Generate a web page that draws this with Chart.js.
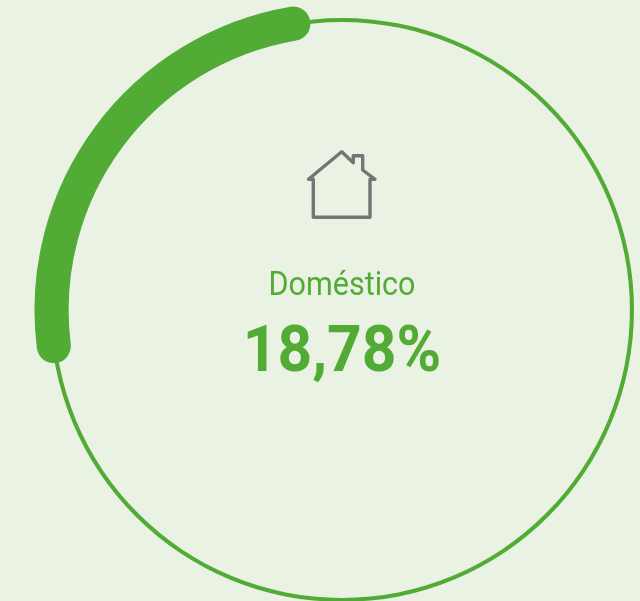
<!DOCTYPE html>
<html><head><meta charset="utf-8">
<style>
html,body{margin:0;padding:0;width:640px;height:601px;overflow:hidden;background:#EAF2E3}
.c{position:absolute;left:22px;top:-10px;width:640px;height:640px}
canvas{display:block}
.t{position:absolute;left:142px;width:400px;text-align:center;font-family:Roboto,sans-serif;color:#52AB35;white-space:nowrap}
#label{top:267px;font-size:30.5px;line-height:36px;font-weight:400;transform-origin:50% 28px;transform:scaleY(1.07)}
#value{top:315px;font-size:60.5px;line-height:72px;font-weight:700;transform-origin:50% 56.7px;transform:scaleY(1.08)}
svg{position:absolute;left:0;top:0}
</style></head><body>
<div class="c"><canvas id="track" width="640" height="640"></canvas></div>
<div class="c"><canvas id="arc" width="640" height="640"></canvas></div>
<svg width="640" height="601"><path d="M308.5 179.3 L341.7 151.7 L353.3 162.7 L353.3 155.7 L362.7 155.7 L362.7 170 L375 179.3 L370 179.3 L370 217.3 L313.3 217.3 L313.3 179.3 Z" fill="none" stroke="#757575" stroke-width="3.4" stroke-linejoin="round" stroke-linecap="round"/></svg>
<div class="t" id="label"></div>
<div class="t" id="value"></div>
<script src="https://cdn.jsdelivr.net/npm/chart.js@4"></script>
<script>
const categoryLabel = "Doméstico";
const valueLabel = "18,78%";
const arcCategories = ["Doméstico", "Resto"];
const arcValues = [26.17, 73.83];
const trackValues = [100];
const green = "#52AB35";

document.getElementById("label").textContent = categoryLabel;
document.getElementById("value").textContent = valueLabel;

const base = {
  responsive: false, animation: false, events: [],
  layout: { padding: 0 },
  plugins: { legend: { display: false }, tooltip: { enabled: false }, title: { display: false } }
};
new Chart(document.getElementById("track"), {
  type: "doughnut",
  data: { labels: ["Total"], datasets: [{ data: trackValues, backgroundColor: [green], borderWidth: 0 }] },
  options: { ...base, radius: 292, cutout: "98.6%" }
});
new Chart(document.getElementById("arc"), {
  type: "doughnut",
  data: { labels: arcCategories, datasets: [{
    data: arcValues,
    backgroundColor: [green, "rgba(0,0,0,0)"],
    borderWidth: 0,
    borderRadius: [17, 0]
  }] },
  options: { ...base, radius: 307.5, cutout: "88.9%", rotation: -100.5 }
});
</script>
</body></html>
